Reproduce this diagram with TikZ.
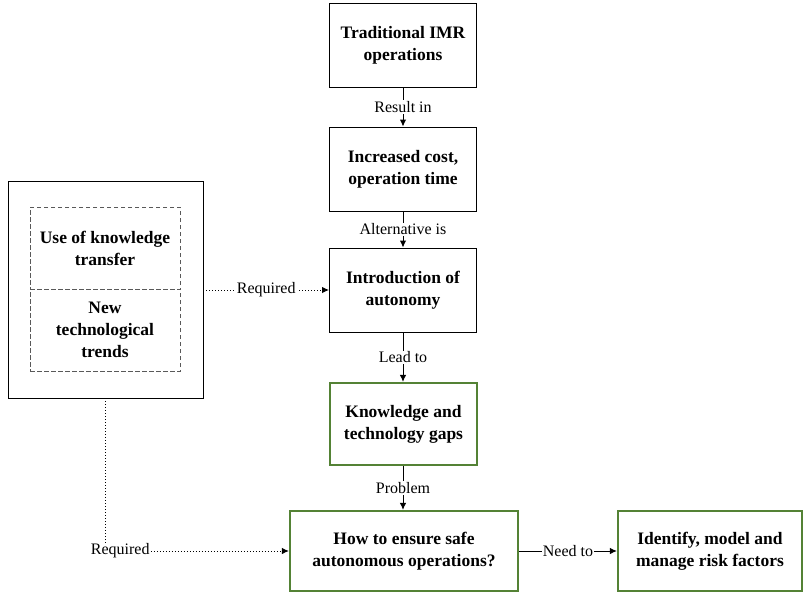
\documentclass[tikz,border=0pt]{standalone}
\usepackage{fontspec}
\setmainfont{Liberation Serif}
\usetikzlibrary{arrows.meta}
\definecolor{boxgreen}{RGB}{84,130,53}
\begin{document}
\begin{tikzpicture}[x=1pt,y=-1pt,
  txt/.style={font=\fontsize{17.5}{22}\selectfont\bfseries},
  box/.style={txt,draw=black,line width=0.9pt,fill=white,minimum width=147pt,minimum height=84pt,align=center,inner sep=2pt},
  gbox/.style={box,draw=boxgreen,line width=2.2pt},
  dbox/.style={txt,draw=black!65,dash pattern=on 4.5pt off 2.5pt,line width=0.9pt,minimum width=150pt,minimum height=82pt,align=center,inner sep=1pt},
  lbl/.style={fill=white,font=\fontsize{16}{18}\selectfont,inner sep=1pt},
  conn/.style={line width=1pt,-{Latex[length=7pt,width=6.5pt]}},
  dconn/.style={conn,dotted}]
\useasboundingbox (0,0) rectangle (805,595);
\node[box] (b1) at (403,45) {Traditional IMR\\operations};
\node[box] (b2) at (403,169) {Increased cost,\\operation time};
\node[box] (b3) at (403,290) {Introduction of\\autonomy};
\node[gbox,minimum width=147pt,minimum height=82pt] (b4) at (403.5,424) {Knowledge and\\technology gaps};
\node[gbox,minimum width=228pt,minimum height=80pt] (b5) at (404,551) {How to ensure safe\\autonomous operations?};
\node[gbox,minimum width=184pt,minimum height=80pt] (b6) at (710,551) {Identify, model and\\manage risk factors};
\node[draw,line width=0.9pt,minimum width=195pt,minimum height=217pt] (outer) at (105.5,289.5) {};
\node[dbox] (k1) at (105,248) {Use of knowledge\\transfer};
\node[dbox] (k2) at (105,330) {New\\technological\\trends};
\draw[conn] (b1) -- node[lbl]{Result in} (b2);
\draw[conn] (b2) -- node[lbl]{Alternative is} (b3);
\draw[conn] (b3) -- node[lbl]{Lead to} (b4.north -| b3);
\draw[conn] (b4.south -| b3) -- node[lbl]{Problem} (b5.north -| b3);
\draw[conn] (b5) -- node[lbl]{Need to} (b6);
\draw[dconn] (outer.east |- b3) -- node[lbl]{Required} (b3.west);
\draw[dconn] (outer.south) |- node[lbl,pos=0.54]{Required} (b5.west);
\end{tikzpicture}
\end{document}
